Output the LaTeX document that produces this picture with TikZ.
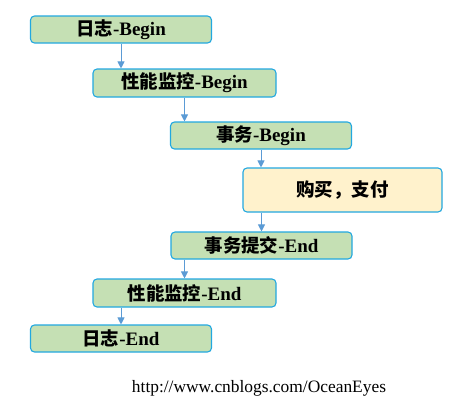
\documentclass[tikz,border=0pt]{standalone}
\usepackage{fontspec}
\setmainfont{Liberation Serif}
\newfontfamily\cjk[Scale=0.97]{Noto Sans CJK SC}
\usepackage{xcolor}
\usepackage{tikz}
\usetikzlibrary{arrows.meta}
\definecolor{boxgreen}{HTML}{C5E0B4}
\definecolor{boxyellow}{HTML}{FFF2CC}
\definecolor{boxline}{HTML}{22A8E0}
\definecolor{arrowblue}{HTML}{5B9BD5}

\begin{document}
\begin{tikzpicture}
            [x=1pt,y=-1pt,
            step box/.style={draw=boxline,line width=1.1pt,fill=boxgreen,rounded corners=4pt,
                minimum width=181pt,minimum height=27pt,inner sep=0pt,
                font=\fontsize{19}{22}\selectfont\bfseries},
            work box/.style={step box,fill=boxyellow,minimum width=199pt,minimum height=44pt},
            flow/.style={draw=arrowblue,line width=1pt,-{Triangle[width=7pt,length=7pt]}}
            ]
        \useasboundingbox (0,0) rectangle (461,418);
        \node[step box] (1) at (121,29.5) {{\cjk 日志}-Begin};
        \node[step box,minimum width=183pt,minimum height=28pt] (2) at (184.5,83) {{\cjk 性能监控}-Begin};
        \node[step box] (3) at (261,135.5) {{\cjk 事务}-Begin};
        \node[work box] (4) at (342.5,190) {\cjk 购买，支付};
        \node[step box] (5) at (261.5,245.5) {{\cjk 事务提交}-End};
        \node[step box,minimum width=183pt,minimum height=28pt] (6) at (184.5,293) {{\cjk 性能监控}-End};
        \node[step box] (7) at (121,338.5) {{\cjk 日志}-End};
        \node[font=\fontsize{17.4}{20}\selectfont] (url) at (259,388) {http://www.cnblogs.com/OceanEyes};
        \draw[flow] (1) -- (1 |- 2.north);
        \draw[flow] (2) -- (2 |- 3.north);
        \draw[flow] (3) -- (3 |- 4.north);
        \draw[flow] (4.south -| 5) -- (5);
        \draw[flow] (5.south -| 6) -- (6);
        \draw[flow] (6.south -| 7) -- (7);
        \end{tikzpicture}
\end{document}
